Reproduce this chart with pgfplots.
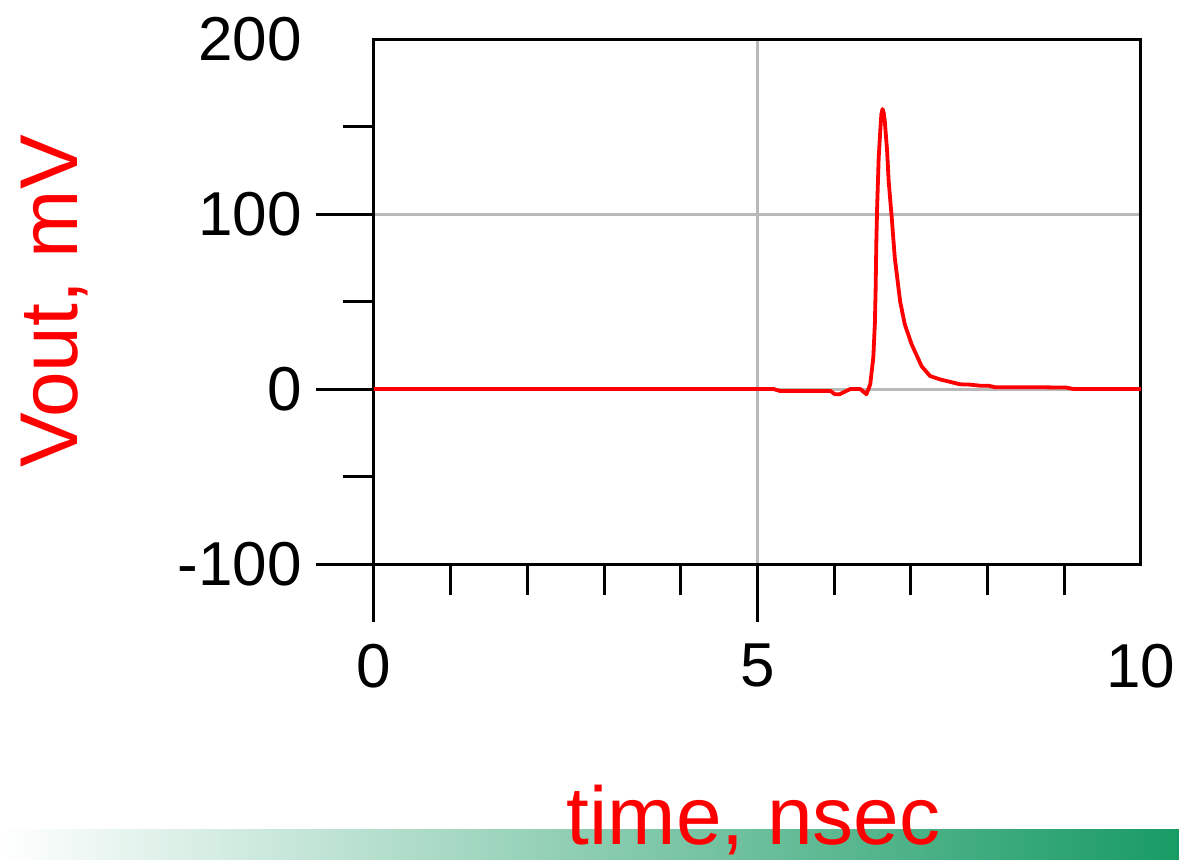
\documentclass[border=0pt]{standalone}
\usepackage{fontspec}
\setmainfont{Liberation Sans}
\usepackage{pgfplots}
\pgfplotsset{compat=1.18}
\definecolor{barright}{RGB}{24,155,100}
\definecolor{barmid}{RGB}{160,200,165}
\definecolor{gridgray}{RGB}{185,185,185}

\begin{document}
\begin{tikzpicture}
% picture frame: 1px of the reference = 0.25pt
\useasboundingbox (-93.5pt,-73.75pt) rectangle (201.25pt,141pt);
\fill[left color=white, middle color=barmid, right color=barright]
  (-93.5pt,-73.75pt) rectangle (201.25pt,-66.25pt);
\begin{axis}[
  at={(0pt,0pt)}, anchor=south west,
  scale only axis,
  width=191.75pt, height=131.25pt,
  xmin=0, xmax=10, ymin=-100, ymax=200,
  xtick={0,5}, ytick={-100,0,100},
  minor xtick={1,2,3,4,6,7,8,9},
  minor ytick={-50,50,150},
  extra x ticks={10}, extra y ticks={200},
  extra tick style={grid=none, major tick style={draw=none}},
  tick pos=left,
  tick align=outside,
  major tick length=14.5pt,
  minor tick length=7.75pt,
  every tick/.style={black, line width=0.75pt},
  axis line style={line width=0.75pt},
  grid=major,
  grid style={gridgray, line width=0.75pt},
  ticklabel style={font=\fontsize{15.5pt}{18pt}\selectfont},
  /pgf/number format/assume math mode=true,
  xticklabel style={yshift=-2pt},
  label style={font=\fontsize{20.5pt}{24pt}\selectfont, text=red},
  xlabel={time, nsec},
  ylabel={Vout, mV},
  xlabel style={at={(axis description cs:0.495,-0.535)}, anchor=base},
  ylabel style={at={(axis description cs:-0.386,0.5)}, anchor=base},
]
\addplot[red, line width=0.95pt, line join=round] coordinates {
(0,0) (5.21,0) (5.29,-1.1) (5.95,-1.1) (6.01,-3) (6.07,-3) (6.21,0) (6.34,0) (6.42,-3)
(6.47,2.7) (6.51,18) (6.53,37) (6.54,56) (6.55,85) (6.56,104) (6.58,132) (6.60,147)
(6.615,157) (6.63,160) (6.645,158) (6.66,153) (6.69,136) (6.71,119) (6.75,98) (6.79,75) (6.86,50) (6.92,37)
(7.01,25.5) (7.14,13) (7.25,7.4) (7.38,5.5) (7.64,2.7) (7.77,2.5) (7.90,1.9) (8.01,1.9)
(8.10,1.0) (8.68,1.0) (9.03,0.8) (9.12,0) (10,0)
};
\end{axis}
\end{tikzpicture}
\end{document}
